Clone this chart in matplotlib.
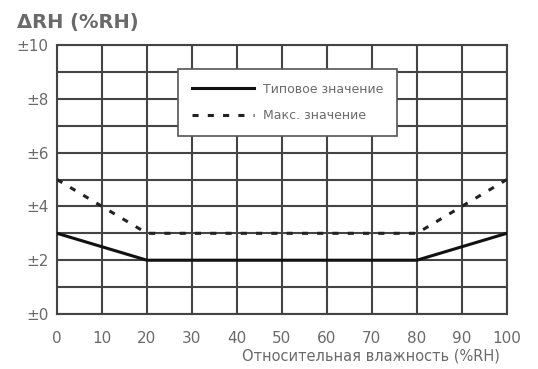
import matplotlib
matplotlib.use('Agg')
import matplotlib.pyplot as plt
import numpy as np

# Данные
rh = [0, 20, 80, 100]
typical = [3, 2, 2, 3]
maximum = [5, 3, 3, 5]
x_ticks = [0, 10, 20, 30, 40, 50, 60, 70, 80, 90, 100]
y_ticks = [0, 2, 4, 6, 8, 10]
y_labels = ['±0', '±2', '±4', '±6', '±8', '±10']

txt = '#6a6a6a'
grid_c = '#444444'

fig = plt.figure(figsize=(5.38, 3.69), dpi=100)
ax = fig.add_axes([0.106, 0.149, 0.836, 0.729])

ax.plot(rh, typical, color='#111111', linewidth=2.2, label='Типовое значение', zorder=4)
ax.plot(rh, maximum, color='#222222', linewidth=2.2, linestyle=(0, (2, 3)),
        label='Макс. значение', zorder=4)

ax.set_xlim(0, 100)
ax.set_ylim(0, 10)
ax.set_xticks(x_ticks)
ax.set_yticks(y_ticks)
ax.set_yticklabels(y_labels)
ax.set_yticks(np.arange(0, 11, 1), minor=True)
ax.grid(True, which='both', color=grid_c, linewidth=1.5)
ax.tick_params(which='both', length=0, labelsize=11, labelcolor=txt)
ax.tick_params(axis='x', pad=12)
ax.tick_params(axis='y', pad=6)
for s in ax.spines.values():
    s.set_color(grid_c)
    s.set_linewidth(1.5)

leg = ax.legend(loc='upper left', bbox_to_anchor=(0.269, 0.911), fontsize=9,
                frameon=True, fancybox=False, framealpha=1, edgecolor='#555555',
                handlelength=5.0, handletextpad=0.7, labelcolor=txt,
                borderpad=1.1, labelspacing=1.1, borderaxespad=0)
leg.get_frame().set_linewidth(1.2)

fig.text(0.032, 0.94, 'ΔRH (%RH)', fontsize=14, color=txt, fontweight='bold', va='center')
fig.text(0.93, 0.035, 'Относительная влажность (%RH)', fontsize=10.5, color=txt,
         ha='right', va='center')

fig.savefig('out.png', dpi=100)
